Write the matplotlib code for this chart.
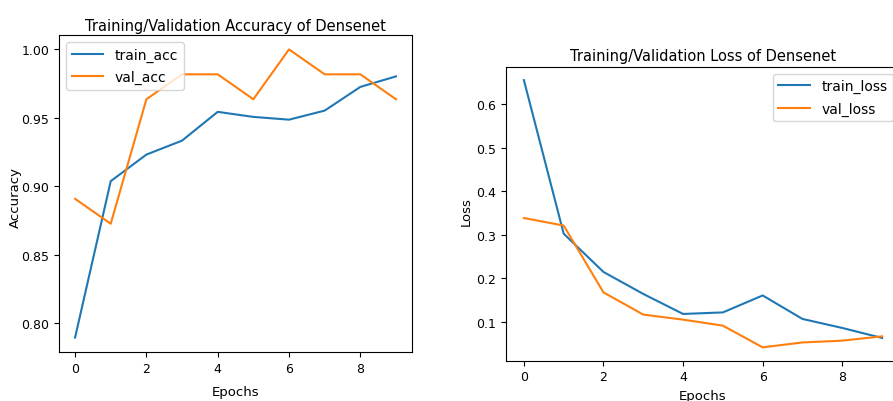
import numpy as np
import matplotlib
matplotlib.use("Agg")
import matplotlib.pyplot as plt

plt.rcParams['font.family'] = ['DejaVu Sans']

epochs = list(range(10))

train_acc = [0.7896, 0.9038, 0.9232, 0.9334, 0.9544, 0.9507, 0.9487, 0.9553, 0.9726, 0.9803]
val_acc = [0.8909, 0.8727, 0.9636, 0.9818, 0.9818, 0.9636, 1.0, 0.9818, 0.9818, 0.9636]

train_loss = [0.656, 0.303, 0.215, 0.1645, 0.1185, 0.122, 0.161, 0.107, 0.0863, 0.0633]
val_loss = [0.339, 0.3217, 0.168, 0.117, 0.1054, 0.0916, 0.0417, 0.053, 0.0571, 0.067]

tick_size = 9
label_size = 9.5
title_size = 10.5

fig = plt.figure(figsize=(8.93, 4.02), dpi=100)

# accuracy panel
ax1 = fig.add_axes([0.0661, 0.1219, 0.3953, 0.7886])
ax1.plot(epochs, train_acc, label='train_acc')
ax1.plot(epochs, val_acc, label='val_acc')
ax1.set_title('Training/Validation Accuracy of Densenet', fontsize=title_size, pad=3.6)
ax1.set_xlabel('Epochs', fontsize=label_size)
ax1.set_ylabel('Accuracy', fontsize=label_size)
ax1.xaxis.set_label_coords(0.5, -0.104)
ax1.yaxis.set_label_coords(-0.105, 0.49)
ax1.set_xticks([0, 2, 4, 6, 8])
ax1.set_yticks([0.80, 0.85, 0.90, 0.95, 1.00])
ax1.tick_params(labelsize=tick_size)
ax1.legend(loc='upper left', fontsize=10, handlelength=2.3, labelspacing=0.6)

# loss panel (right edge runs past the figure, as in the cropped original)
ax2 = fig.add_axes([0.5666, 0.1002, 0.4412, 0.7313])
ax2.plot(epochs, train_loss, label='train_loss')
ax2.plot(epochs, val_loss, label='val_loss')
ax2.set_title('Training/Validation Loss of Densenet', fontsize=title_size, pad=5)
ax2.set_xlabel('Epochs', fontsize=label_size)
ax2.set_ylabel('Loss', fontsize=label_size)
ax2.xaxis.set_label_coords(0.5, -0.096)
ax2.yaxis.set_label_coords(-0.084, 0.51)
ax2.set_xticks([0, 2, 4, 6, 8])
ax2.set_yticks([0.1, 0.2, 0.3, 0.4, 0.5, 0.6])
ax2.tick_params(labelsize=tick_size)
ax2.legend(loc='upper right', fontsize=10, handlelength=2.3, labelspacing=0.6)

plt.savefig('out.png', dpi=100)
